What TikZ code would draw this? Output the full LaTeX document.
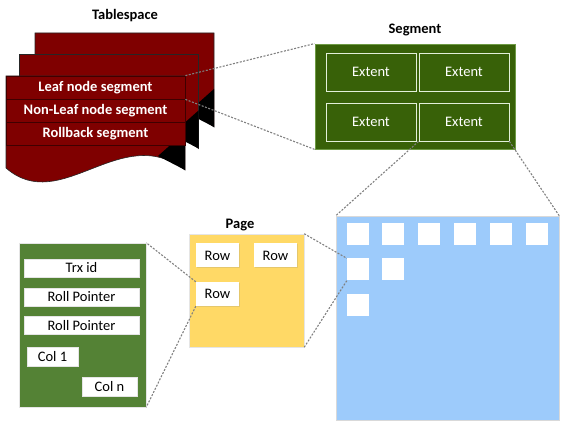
\documentclass[tikz,border=0pt]{standalone}
\usepackage{fontspec}
\setmainfont{Carlito}
\usepackage{tikz}
\usetikzlibrary{positioning,shadows}
\definecolor{tsred}{HTML}{7F0000}
\definecolor{tsdark}{HTML}{3F0000}
\definecolor{seggreen}{HTML}{386108}
\definecolor{segline}{HTML}{6E9A45}
\definecolor{extline}{HTML}{E2F0D9}
\definecolor{recgreen}{HTML}{548235}
\definecolor{pageyellow}{HTML}{FFD966}
\definecolor{blkblue}{HTML}{9DCBFB}
\newcommand\figfont{\fontsize{14.5}{17}\selectfont}
\tikzset
{
    title/.style    = {font=\figfont\bfseries},
    sheet/.style    = {fill=tsred, draw=black!85, line width=0.6pt},
    segrow/.style   = {rectangle, fill=tsred, draw=tsdark, line width=0.8pt, text=white, font=\figfont\bfseries, minimum width=179pt, minimum height=23pt, inner sep=0pt},
    segbox/.style   = {rectangle, fill=seggreen, draw=segline, line width=0.8pt, minimum width=200pt, minimum height=105pt},
    extent/.style   = {rectangle, fill=seggreen, draw=extline, line width=0.8pt, text=white, font=\figfont, minimum width=90pt, minimum height=38pt, inner sep=0pt},
    blkbox/.style   = {rectangle, fill=blkblue, draw=black!15, line width=0.5pt, minimum width=223pt, minimum height=204pt},
    pagebox/.style  = {rectangle, fill=pageyellow, draw=black!10, line width=0.5pt, minimum width=115pt, minimum height=113pt},
    recbox/.style   = {rectangle, fill=recgreen, draw=black!10, line width=0.5pt, minimum width=127pt, minimum height=164pt},
    square/.style   = {rectangle, fill=white, minimum size=22pt, inner sep=0pt},
    rowbox/.style   = {rectangle, fill=white, font=\figfont, minimum width=43pt, minimum height=24pt, inner sep=0pt, drop shadow={opacity=0.2, shadow xshift=1pt, shadow yshift=-1pt}},
    field/.style    = {rectangle, fill=white, draw=black!10, font=\figfont, minimum height=18pt, inner sep=0pt},
    zoomline/.style = {draw=black!50, line width=1.1pt, dash pattern=on 2pt off 1.5pt}
}
\begin{document}
\begin{tikzpicture}[x=1pt, y=-1pt]
   \useasboundingbox (0,0) rectangle (566,430);

   %% tablespace: three stacked sheets
   \foreach \sx/\sy in {35/33, 19.5/54.5, 6/76}
   {
     \begin{scope}[shift={(\sx,\sy)}]
       \filldraw[sheet] (0,0) -- (179,0) -- (179,94) .. controls (115,45) and (55,140) .. (0,92) -- cycle;
       \fill[black] (152,80) -- (179,56) -- (179,94) -- cycle;
     \end{scope}
   }

   \node (ts)       [title]                        at (125,16)      {Tablespace};
   \node (leaf)     [segrow]                       at (95.5,87.5)   {Leaf node segment};
   \node (nonleaf)  [segrow]                       at (95.5,110.5)  {Non-Leaf node segment};
   \node (rollback) [segrow]                       at (95.5,133.5)  {Rollback segment};

   %% segment
   \node (segt)     [title]                        at (415,30)      {Segment};
   \node (seg)      [segbox]                       at (415,96.5)    {};
   \node (ext1)     [extent]                       at (371,72)      {Extent};
   \node (ext2)     [extent]                       at (464,72)      {Extent};
   \node (ext3)     [extent]                       at (371,122)     {Extent};
   \node (ext4)     [extent]                       at (464,122)     {Extent};

   %% extent: pages
   \node (blk)      [blkbox]                       at (447.5,318)   {};
   \node (sq11)     [square]                       at (358,234)     {};
   \node (sq12)     [square]                       at (393,234)     {};
   \node (sq13)     [square]                       at (429,234)     {};
   \node (sq14)     [square]                       at (465,234)     {};
   \node (sq15)     [square]                       at (501,234)     {};
   \node (sq16)     [square]                       at (537,234)     {};
   \node (sq21)     [square]                       at (358,269.5)   {};
   \node (sq22)     [square]                       at (393,269.5)   {};
   \node (sq31)     [square]                       at (358,305.5)   {};

   %% page
   \node (paget)    [title]                        at (240,225)     {Page};
   \node (page)     [pagebox]                      at (246.5,290.5) {};
   \node (row1)     [rowbox]                       at (217.5,255.5) {Row};
   \node (row2)     [rowbox]                       at (275.5,255.5) {Row};
   \node (row3)     [rowbox]                       at (217.5,294)   {Row};

   %% row record
   \node (rec)      [recbox]                       at (82.5,325)    {};
   \node (trx)      [field, minimum width=115pt]   at (81.5,268)    {Trx id};
   \node (roll1)    [field, minimum width=115pt]   at (81.5,297)    {Roll Pointer};
   \node (roll2)    [field, minimum width=115pt]   at (81.5,325.5)  {Roll Pointer};
   \node (col1)     [field, minimum width=51pt, minimum height=19pt]    at (52.5,356.5)  {Col 1};
   \node (coln)     [field, minimum width=55pt, minimum height=19pt]    at (109.5,386.5) {Col n};

   \path
      (leaf.north east)  edge[zoomline]  (seg.north west)
      (leaf.south east)  edge[zoomline]  (seg.south west)
      (ext4.south west)  edge[zoomline]  (blk.north west)
      (ext4.south east)  edge[zoomline]  (blk.north east)
      (page.north east)  edge[zoomline]  (sq21.north west)
      (page.south east)  edge[zoomline]  (sq21.south west)
      (row3.north west)  edge[zoomline]  (rec.north east)
      (row3.south west)  edge[zoomline]  (rec.south east);
\end{tikzpicture}
\end{document}
